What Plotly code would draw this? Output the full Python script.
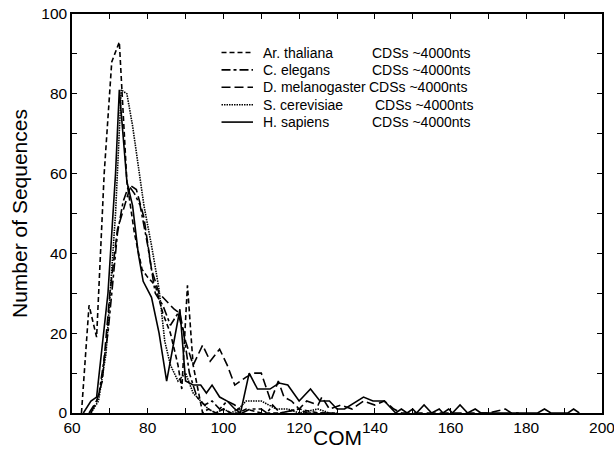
import plotly.graph_objects as go

# ---------------- data ----------------
ath_x = [62.5, 64.5, 66.5, 68.5, 70.5, 72.5, 74.5, 76.5, 78.5, 80, 82, 84, 86, 88, 89,
         90.5, 92, 94.5, 96, 98, 100, 102, 104, 106, 110, 115, 120, 125, 130]
ath_y = [0, 27, 19, 60, 88, 93, 58, 45, 36, 34, 32, 25, 20, 12, 6,
         32, 12, 0, 1, 0, 1, 0, 0, 1, 0, 0, 1, 0, 0]

cel_x = [65, 67, 69.5, 72, 73.5, 75, 76.5, 78, 80, 82, 84, 86, 88, 89.5, 91, 93, 95,
         97, 99, 101, 103, 105, 107, 110, 111.5, 113, 115, 120, 122, 125, 130]
cel_y = [0, 4, 20, 45, 53, 57, 55, 52, 42, 30, 27, 22, 25, 20, 10, 4, 2,
         3, 1, 3, 2, 0, 1, 1, 0, 2, 0, 1, 0, 0, 0]

dme_x = [64.5, 66.5, 68, 70, 72, 74, 75.5, 77, 79, 81, 83, 85, 87, 88.5, 90, 92, 94.5,
         96.5, 99, 101, 103, 106, 108, 110, 112.5, 114.5, 116, 118, 120, 122, 125, 126,
         128, 131, 134, 137, 140, 142.5, 145, 147, 170, 174.5, 176, 178]
dme_y = [0, 3, 8, 30, 46, 52, 57, 56, 49, 36, 30, 28, 26, 25, 18, 12, 17,
         13, 16, 12, 7, 9, 10, 10, 3, 8, 4, 3, 1, 3, 2, 4,
         1, 2, 1, 3, 2, 3, 1, 0, 0, 1, 0, 0]

sce_x = [65, 67, 69, 71.5, 73, 74.5, 76, 77.5, 79, 81, 83, 84.5, 86, 88, 90, 92, 94,
         96, 98, 100, 102, 104, 106, 110, 112, 114, 117, 120, 125, 128]
sce_y = [0, 3, 15, 50, 81, 80, 72, 62, 52, 42, 31, 18, 12, 8, 10, 5, 3,
         1, 0, 1, 0, 1, 3, 3, 2, 1, 1, 0, 1, 0]

hsa_x = [63, 65, 66.5, 69.5, 71.5, 72.5, 74.5, 76, 77.5, 78.8, 81, 83, 85, 87, 88.5,
         90, 92, 94, 95.5, 97, 99, 101, 103, 104.5, 106.8, 109, 112.3, 114.7, 117,
         120, 123, 125.5, 128, 130, 132, 137, 139.5, 142.5, 145.5, 147, 148.5, 150,
         151, 153, 155, 157, 158, 159.5, 160.5, 162.5, 164.5, 166.5, 168, 183,
         184.8, 186.5, 191, 192.5, 194]
hsa_y = [0, 3, 4, 30, 60, 81, 58, 52, 40, 33, 29, 20, 8, 18, 26,
         8, 7, 7, 5, 7, 4, 3, 1, 0, 10, 6, 6, 7.5, 7,
         3, 6, 3, 3, 1, 1, 4, 3, 3, 0, 1, 0, 1,
         0, 2, 0, 1, 0, 1, 0, 2, 0, 1, 0, 0,
         1, 0, 0, 1, 0]

names = ["Ar. thaliana", "C. elegans", "D. melanogaster", "S. cerevisiae", "H. sapiens"]
suffix = "CDSs ~4000nts"
dashes = ["5px,3px", "9px,3px,3px,3px", "9px,4px", "1.5px,1px", "solid"]

series = [(ath_x, ath_y), (cel_x, cel_y), (dme_x, dme_y), (sce_x, sce_y), (hsa_x, hsa_y)]

FONT = "Liberation Sans, Arial, Helvetica, sans-serif"

fig = go.Figure()
for (xs, ys), nm, ds in zip(series, names, dashes):
    fig.add_trace(go.Scatter(x=xs, y=ys, mode="lines", name=nm,
                             line=dict(color="black", width=1.6, dash=ds),
                             showlegend=False))

# ---------------- hand-made legend (two text columns) ----------------
row_y = [0.9035, 0.8599, 0.8163, 0.7727, 0.7291]
suffix_x = [0.5660, 0.5660, 0.5600, 0.5715, 0.5660]
for nm, ds, yy, sx in zip(names, dashes, row_y, suffix_x):
    fig.add_shape(type="line", xref="paper", yref="paper",
                  x0=0.2821, x1=0.3415, y0=yy, y1=yy,
                  line=dict(color="black", width=1.6, dash=ds))
    fig.add_annotation(xref="paper", yref="paper", x=0.3604, y=yy,
                       text=nm, showarrow=False, xanchor="left", yanchor="middle",
                       borderpad=0, borderwidth=0,
                       font=dict(family=FONT, size=14, color="black"))
    fig.add_annotation(xref="paper", yref="paper", x=sx, y=yy,
                       text=suffix, showarrow=False, xanchor="left", yanchor="middle",
                       borderpad=0, borderwidth=0,
                       font=dict(family=FONT, size=14, color="black"))

# x-axis title placed as an annotation for exact vertical position
fig.add_annotation(xref="paper", yref="paper", x=0.5, y=-0.061,
                   text="COM", showarrow=False, xanchor="center", yanchor="middle",
                   borderpad=0, font=dict(family=FONT, size=21, color="black"))

axis_common = dict(
    showline=True, linecolor="black", linewidth=1.5, mirror="ticks",
    ticks="inside", ticklen=5, tickwidth=1, tickcolor="black",
    showgrid=False, zeroline=False, automargin=False,
    ticklabeloverflow="allow",
    tickfont=dict(family=FONT, size=15.5, color="black"),
    minor=dict(ticks="inside", ticklen=5, tickwidth=1, tickcolor="black", dtick=10, showgrid=False),
)

fig.update_xaxes(range=[60, 200], dtick=20, tick0=60, **axis_common)
fig.update_yaxes(range=[0, 100], dtick=20, tick0=0,
                 title=dict(text="Number of Sequences", font=dict(family=FONT, size=21, color="black"), standoff=8),
                 **axis_common)

fig.update_layout(
    width=614, height=453,
    margin=dict(l=72, r=12, t=14, b=40),
    paper_bgcolor="white", plot_bgcolor="white",
    font=dict(family=FONT, color="black"),
)

fig.write_html("out.html")
